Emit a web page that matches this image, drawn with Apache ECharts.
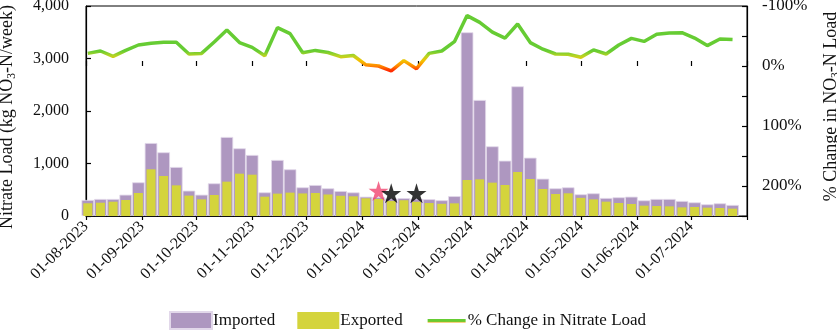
<!DOCTYPE html>
<html>
<head>
<meta charset="utf-8">
<script src="https://cdn.jsdelivr.net/npm/echarts@6/dist/echarts.min.js"></script>
<style>html,body{margin:0;padding:0;background:#fff}#c{width:837px;height:330px}</style>
</head>
<body>
<div id="c"></div>
<script>
// ---- data ----
var weekDates = ['2023-08-02','2023-08-09','2023-08-16','2023-08-23','2023-08-30','2023-09-06','2023-09-13','2023-09-20','2023-09-27','2023-10-04','2023-10-11','2023-10-18','2023-10-25','2023-11-01','2023-11-08','2023-11-15','2023-11-22','2023-11-29','2023-12-06','2023-12-13','2023-12-20','2023-12-27','2024-01-03','2024-01-10','2024-01-17','2024-01-24','2024-01-31','2024-02-07','2024-02-14','2024-02-21','2024-02-28','2024-03-06','2024-03-13','2024-03-20','2024-03-27','2024-04-03','2024-04-10','2024-04-17','2024-04-24','2024-05-01','2024-05-08','2024-05-15','2024-05-22','2024-05-29','2024-06-05','2024-06-12','2024-06-19','2024-06-26','2024-07-03','2024-07-10','2024-07-17','2024-07-24'];
var imported = [305,324,324,406,641,1390,1213,933,483,406,622,1505,1289,1162,451,1067,889,546,590,527,475,450,368,360,335,340,330,320,300,378,3499,2210,1327,1054,2470,1111,711,527,546,413,432,343,356,368,298,324,324,286,260,222,241,210];
var exported = [242,253,272,305,438,889,762,584,388,317,400,654,806,787,368,426,445,430,438,410,385,375,337,325,285,300,270,247,232,241,686,698,635,590,838,705,514,419,432,346,317,273,248,229,197,191,184,165,171,159,152,140];
var pctChange = [-21,-25,-16,-26,-35,-38,-39.5,-39.5,-20,-21,-40,-60,-39,-31,-17,-64,-54,-22,-26,-22.5,-15.5,-17.5,-2,0,8,-9,4.5,-21,-25,-40.5,-84,-72.7,-56.5,-46.5,-70,-39,-28,-20,-19.6,-14.6,-26.8,-20,-35,-46,-41,-53,-55,-55.5,-46.5,-34,-45,-44];
var starDates = ['2024-01-10','2024-01-17','2024-01-31'];
var starValues = [476,432,432];
var starColors = ['#F0456F','#000000','#000000'];
var monthTicks = ['2023-08-01','2023-09-01','2023-10-01','2023-11-01','2023-12-01','2024-01-01','2024-02-01','2024-03-01','2024-04-01','2024-05-01','2024-06-01','2024-07-01','2024-08-01'];
var monthLabels = ['01-08-2023','01-09-2023','01-10-2023','01-11-2023','01-12-2023','01-01-2024','01-02-2024','01-03-2024','01-04-2024','01-05-2024','01-06-2024','01-07-2024'];
var leftTicks = [0,1000,2000,3000,4000];
var rightTickLabels = [-100,0,100,200];
var seriesNames = ['Imported','Exported','% Change in Nitrate Load'];

// ---- helpers ----
function ts(s){var p=s.split('-');return Date.UTC(+p[0],+p[1]-1,+p[2]);}
var FONT = "'Liberation Serif','Times New Roman',serif";
var tickTs = monthTicks.map(ts);
var labelTs = tickTs.slice(0, monthLabels.length);
var xMin = tickTs[0], xMax = tickTs[tickTs.length-1];
function pair(vals){return weekDates.map(function(d,i){return [ts(d), vals[i]];});}
var starPath = 'path://M50,0 L61.2,34.5 L97.6,34.5 L68.2,55.9 L79.4,90.5 L50,69.1 L20.6,90.5 L31.8,55.9 L2.4,34.5 L38.8,34.5 Z';
// thin line icon inside a 42x17 box (corner specks fix the bounding box)
var lineIcon = 'path://M0,0 L0.01,0 L0,0.01 Z M3,7 L41,7 L41,10.6 L3,10.6 Z M42,17 L41.99,17 L42,16.99 Z';

var chart = echarts.init(document.getElementById('c'), null, {renderer:'canvas'});
var xBase = {
  type:'value', min:xMin, max:xMax, gridIndex:0, position:'bottom', scale:true,
  splitLine:{show:false}
};
chart.setOption({
  animation:false,
  textStyle:{fontFamily:FONT, color:'#111'},
  grid:{left:86, right:90, top:6, bottom:114, show:true, borderColor:'#000', borderWidth:1, backgroundColor:'transparent', containLabel:false, outerBoundsMode:'none'},
  legend:{
    data:[
      {name:seriesNames[0], icon:'rect'},
      {name:seriesNames[1], icon:'rect'},
      {name:seriesNames[2], icon:lineIcon, itemStyle:{color:new echarts.graphic.LinearGradient(0,0,0,1,[{offset:0,color:'#66CC33'},{offset:0.55,color:'#66CC33'},{offset:0.62,color:'#F5A000'},{offset:1,color:'#F5A000'}])}}
    ],
    left:164, top:306, itemWidth:42, itemHeight:17, itemGap:22,
    textStyle:{fontFamily:FONT, fontSize:17, color:'#111', padding:[0,0,0,-4]}
  },
  visualMap:{
    show:false, type:'continuous', seriesIndex:2, dimension:1, min:-25, max:8,
    inRange:{color:['#66CC33','#B9D422','#F5C000','#FF8A00','#FF2A00']}
  },
  xAxis:[
    Object.assign({}, xBase, {
      axisLine:{show:true, lineStyle:{color:'#000', width:1.2}},
      axisTick:{show:true, inside:false, length:4, lineStyle:{color:'#000', width:1.2}, customValues:tickTs},
      axisLabel:{show:true, rotate:45, margin:8, fontFamily:FONT, fontSize:16, color:'#111', customValues:labelTs,
        formatter:function(v){var i=labelTs.indexOf(v);return i>=0?monthLabels[i]:'';}}
    }),
    Object.assign({}, xBase, {
      axisLine:{show:false},
      axisTick:{show:true, inside:true, length:5, lineStyle:{color:'#000', width:1.2}, customValues:tickTs},
      axisLabel:{show:false}
    })
  ],
  yAxis:[
    {type:'value', min:0, max:4000, interval:1000, position:'left',
      name:'{a|Nitrate Load (kg NO}{s|3}{a|-N/week)}', nameLocation:'middle', nameRotate:90, nameGap:68, nameMoveOverlap:false,
      nameTextStyle:{padding:[0,0,0,-12], rich:{a:{fontFamily:FONT, fontSize:18, color:'#111'}, s:{fontFamily:FONT, fontSize:11.5, color:'#111', padding:[9,0,0,0]}}},
      axisLine:{show:true, lineStyle:{color:'#000', width:1.2}},
      axisTick:{show:true, inside:true, length:5, lineStyle:{color:'#000', width:1.2}},
      axisLabel:{margin:17, fontFamily:FONT, fontSize:16, color:'#111',
        formatter:function(v){return leftTicks.indexOf(v)>=0 ? v.toLocaleString('en-US') : '';}},
      splitLine:{show:false}
    },
    {type:'value', min:-100, max:250, interval:50, inverse:true, position:'right',
      name:'{a|% Change in NO}{s|3}{a|-N Load}', nameLocation:'middle', nameRotate:90, nameGap:74, nameMoveOverlap:false,
      nameTextStyle:{padding:[0,-9,0,0], rich:{a:{fontFamily:FONT, fontSize:18, color:'#111'}, s:{fontFamily:FONT, fontSize:11.5, color:'#111', padding:[9,0,0,0]}}},
      axisLine:{show:true, lineStyle:{color:'#000', width:1.2}},
      axisTick:{show:true, inside:true, length:5, lineStyle:{color:'#000', width:1.2}},
      axisLabel:{margin:15, fontFamily:FONT, fontSize:17, color:'#111',
        formatter:function(v){return rightTickLabels.indexOf(v)>=0 ? v+'%' : '';}},
      splitLine:{show:false}
    }
  ],
  series:[
    {name:seriesNames[0], type:'bar', xAxisIndex:0, yAxisIndex:0, barWidth:12.6, data:pair(imported),
      itemStyle:{color:'#AE97C0', borderColor:'#E2D8EA', borderWidth:0.8}},
    {name:seriesNames[1], type:'bar', xAxisIndex:1, yAxisIndex:0, barWidth:9, data:pair(exported),
      itemStyle:{color:'#D4D43C'}},
    {name:seriesNames[2], type:'line', xAxisIndex:0, yAxisIndex:1, data:pair(pctChange), symbol:'none',
      lineStyle:{width:3.5}, itemStyle:{color:'#66CC33'}, z:5},
    {name:'stars', type:'scatter', xAxisIndex:0, yAxisIndex:0, symbol:starPath, symbolSize:20, z:6,
      data:starDates.map(function(d,i){return {value:[ts(d), starValues[i]], itemStyle:{color:starColors[i]}};})}
  ]
});
</script>
</body>
</html>
